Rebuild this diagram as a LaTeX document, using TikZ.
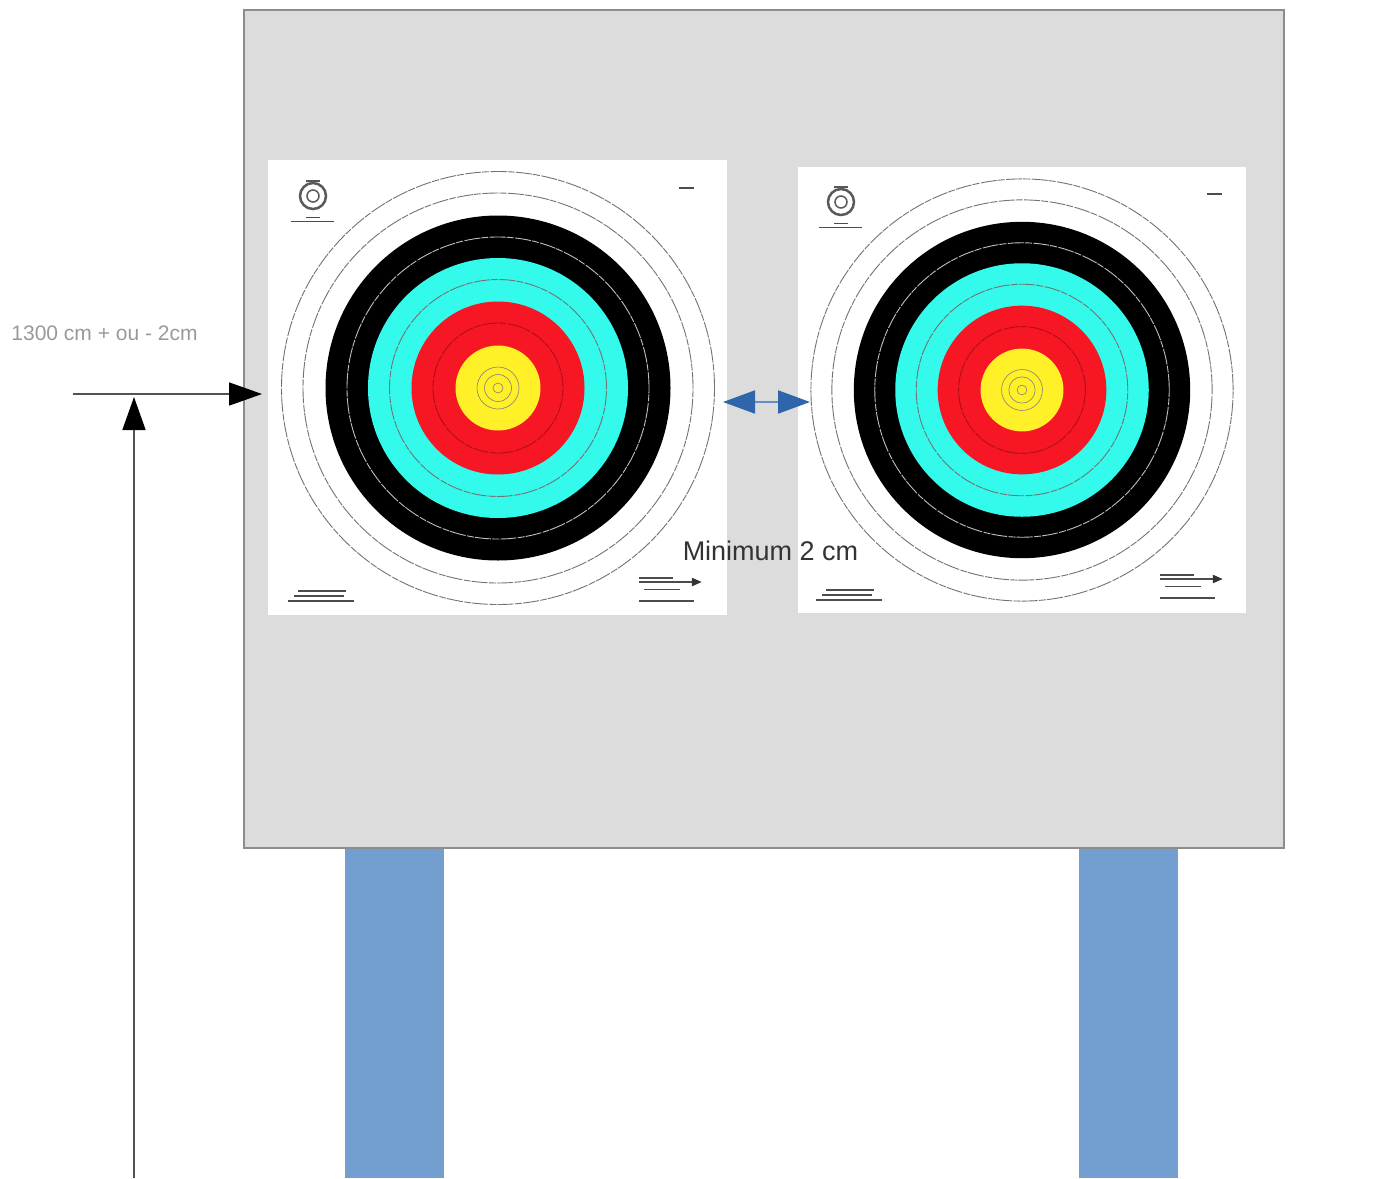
\documentclass[tikz,border=0pt]{standalone}
\usepackage{xcolor}
\usepackage{fontspec}
\setmainfont{Liberation Sans}
\usetikzlibrary{arrows.meta}
\definecolor{boardgray}{RGB}{220,220,220}
\definecolor{boardedge}{RGB}{140,140,140}
\definecolor{legblue}{RGB}{114,159,207}
\definecolor{tipblue}{RGB}{47,102,171}
\definecolor{shaftblue}{RGB}{95,145,200}
\definecolor{ringcyan}{RGB}{51,250,234}
\definecolor{ringred}{RGB}{246,22,36}
\definecolor{ringyellow}{RGB}{255,240,40}
\tikzset{
  board/.style    ={draw=boardedge, line width=1.6pt, fill=boardgray, minimum width=1040pt, minimum height=838pt, inner sep=0pt},
  leg/.style      ={fill=legblue, minimum width=99pt, minimum height=329pt, inner sep=0pt},
  paper/.style    ={fill=white, inner sep=0pt},
  ring/.style     ={circle, inner sep=0pt, outer sep=0pt, minimum size=#1},
  ringline/.style ={ring=#1, draw=black!55, line width=0.9pt, dash pattern=on 16pt off 1.5pt on 7pt off 1pt},
  smallline/.style={ring=#1, draw=black!50, line width=0.6pt},
  paperink/.style ={draw=black!70, line width=1.2pt},
  rulearrow/.style={-{Triangle[length=33pt,width=23pt,color=black]}, draw=black!68, line width=1.6pt},
  gaparrow/.style ={{Triangle[length=32pt,width=23pt,color=tipblue]}-{Triangle[length=32pt,width=23pt,color=tipblue]}, draw=shaftblue, line width=2pt},
}
% rings of one face: name, centre x, centre y, size factor
\newcommand{\targetrings}[4]{%
  \node[ringline=#4*433] (#1outer) at (#2,#3) {};
  \node[ringline=#4*390] (#1paperline) at (#2,#3) {};
  \node[ring=#4*345, fill=black] (#1black) at (#2,#3) {};
  \node[ringline=#4*302, draw=white!75!black] (#1blackline) at (#2,#3) {};
  \node[ring=#4*260, fill=ringcyan] (#1cyan) at (#2,#3) {};
  \node[ringline=#4*217, draw=black!55] (#1cyanline) at (#2,#3) {};
  \node[ring=#4*173, fill=ringred] (#1red) at (#2,#3) {};
  \node[ringline=#4*130, draw=ringred!70!black] (#1redline) at (#2,#3) {};
  \node[ring=#4*85, fill=ringyellow] (#1yellow) at (#2,#3) {};
  \node[smallline=#4*42] (#1ten) at (#2,#3) {};
  \node[smallline=#4*27] (#1inner) at (#2,#3) {};
  \node[smallline=#4*10] (#1spot) at (#2,#3) {};
}
% small printed marks on a sheet: corner x, y, then shift of the lower left and lower right marks
\newcommand{\papermarks}[6]{%
  \begin{scope}[shift={(#1,#2)}]
    \draw[black!65, line width=2.5pt] (45,36) circle (13);
    \draw[black!65, line width=1.5pt] (45,36) circle (6);
    \draw[black!65, line width=2pt] (38,21) -- (52,21);
    \draw[paperink, line width=1pt] (23,61) -- (66,61);
    \draw[paperink, line width=1pt] (38,57) -- (52,57);
    \draw[paperink] (411,28) -- (426,28);
  \end{scope}
  \begin{scope}[shift={(#1+#3,#2+#4)}]
    \draw[paperink, line width=1.4pt] (30,431) -- (78,431);
    \draw[paperink, line width=1.4pt] (26,436) -- (76,436);
    \draw[paperink, line width=1.4pt] (20,441) -- (86,441);
  \end{scope}
  \begin{scope}[shift={(#1+#5,#2+#6)}]
    \draw[paperink] (371,418) -- (405,418);
    \draw[paperink, line width=1.6pt] (371,422) -- (424,422);
    \draw[black!80, fill=black!80] (424,418) -- (433,422) -- (424,426) -- cycle;
    \draw[paperink, line width=0.8pt] (376,429) -- (412,429);
    \draw[paperink, line width=1.4pt] (371,441) -- (426,441);
  \end{scope}
}

\begin{document}
\begin{tikzpicture}[x=1pt, y=-1pt]
  \useasboundingbox (0,0) rectangle (1389,1178);

  \node[leg] (legLeft)  at (394.5,1013.5) {};
  \node[leg] (legRight) at (1128.5,1013.5) {};
  \node[board] (backing) at (764,429) {};

  % Sheets and faces
  \node[paper, minimum width=459pt, minimum height=455pt] (sheetLeft)  at (497.5,387.5) {};
  \node[paper, minimum width=448pt, minimum height=446pt] (sheetRight) at (1022,390) {};
  \papermarks{268}{160}{0}{0}{0}{0}
  \papermarks{796}{166}{0}{-7}{-7}{-9}
  \targetrings{left}{498}{388}{1}
  \targetrings{right}{1022}{390}{0.975}

  % Height and gap arrows
  \coordinate (heightStart) at (73,394);
  \coordinate (heightEnd)   at (262,394);
  \coordinate (heightFoot)  at (134,1178);
  \coordinate (heightTop)   at (134,397);
  \coordinate (gapLeft)     at (723,402);
  \coordinate (gapRight)    at (810,402);
  \draw[rulearrow] (heightStart) -- (heightEnd);
  \draw[rulearrow] (heightFoot) -- (heightTop);
  \draw[gaparrow] (gapLeft) -- (gapRight);

  \node[font=\fontsize{21}{24}\selectfont, text=black!40, inner sep=0pt] (heightLabel) at (104.5,333) {1300 cm + ou - 2cm};
  \node[font=\fontsize{27}{30}\selectfont, text=black!80, inner sep=0pt] (gapLabel) at (770.5,551) {Minimum 2 cm};
\end{tikzpicture}
\end{document}
